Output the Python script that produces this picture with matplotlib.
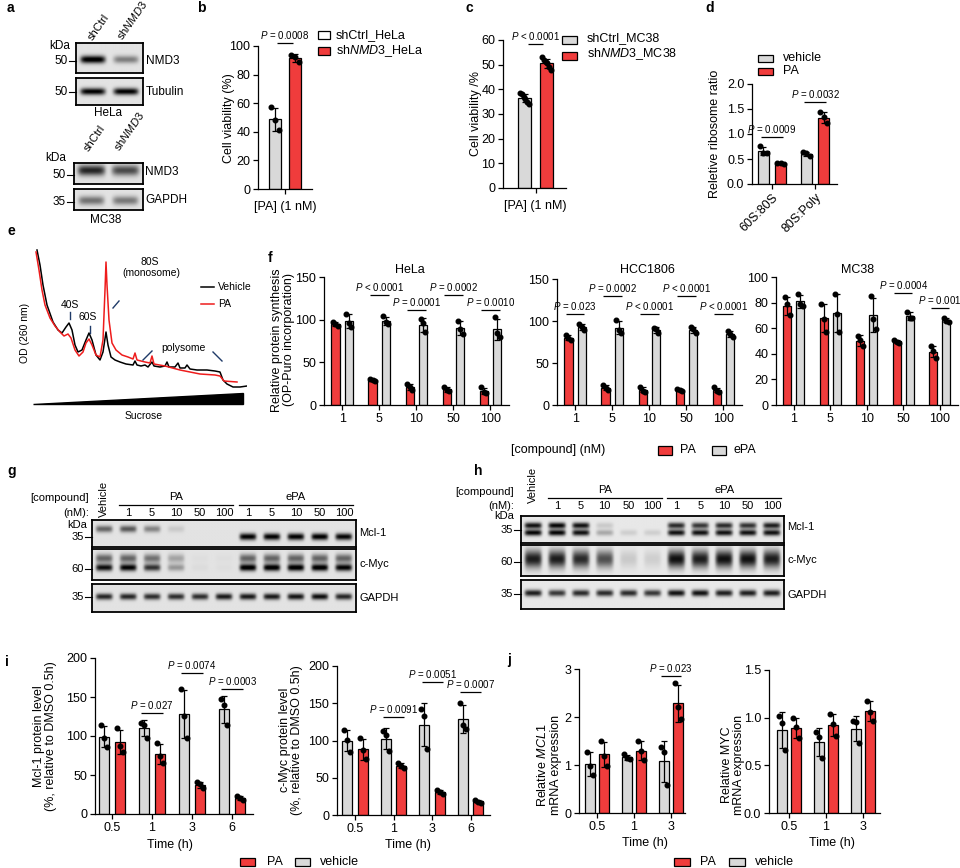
import numpy as np
import matplotlib
matplotlib.use('Agg')
import matplotlib.pyplot as plt
from matplotlib.patches import Rectangle, Polygon
from matplotlib.lines import Line2D

plt.rcParams['font.family'] = ['Liberation Sans', 'DejaVu Sans']
plt.rcParams['mathtext.fontset'] = 'custom'
plt.rcParams['mathtext.rm'] = 'Liberation Sans'
plt.rcParams['mathtext.it'] = 'Liberation Sans:italic'
plt.rcParams['mathtext.bf'] = 'Liberation Sans:bold'

RED = '#f03c3c'
GREY = '#d9d9d9'
NAVY = '#1f3a68'

# ---------------- data ----------------
# panel a band intensities (lanes: shCtrl, shNMD3)
a_hela_nmd3 = [0.95, 0.40]
a_hela_tubulin = [0.90, 0.90]
a_mc38_nmd3 = [0.75, 0.60]
a_mc38_gapdh = [0.45, 0.42]

# panel b
b_labels = ['shCtrl_HeLa', 'shNMD3_HeLa']
b_ctrl = [57, 48, 41]
b_nmd3 = [94, 92, 88.5]

# panel c
c_ctrl = [38.5, 38, 37, 36, 35, 34]
c_nmd3 = [53, 52, 51, 50.5, 49, 48]

# panel d
d_cats = ['60S:80S', '80S:Poly']
d_vehicle = [[0.75, 0.62, 0.61], [0.63, 0.62, 0.55]]
d_pa = [[0.42, 0.41, 0.40], [1.44, 1.33, 1.21]]

# panel e polysome profiles (gradient position, A260 a.u.)
e_veh_pos = [2, 5, 8, 12, 18, 23, 27, 31, 34, 37, 40, 43, 47, 51, 54, 57, 61, 65, 68, 71, 73, 76, 80, 85,
             91, 98, 100, 102, 106, 110, 113, 117, 119, 125, 130, 132, 134, 140, 143, 145, 150, 152, 155,
             162, 172, 180, 185, 188, 192, 198, 205, 212]
e_veh_od = [145, 130, 110, 90, 73, 65, 62, 68, 72, 65, 50, 43, 45, 55, 62, 55, 40, 35, 43, 63, 50, 38, 35, 33,
            31, 30, 34, 30, 29, 30, 28, 33, 29, 28, 29, 33, 28, 28, 32, 27, 27, 30, 26,
            25, 25, 24, 23, 15, 11, 8, 8, 9]
e_pa_pos = [1, 4, 7, 10, 15, 20, 25, 29, 33, 36, 40, 44, 48, 51, 54, 57, 61, 65, 68, 70, 71, 72, 74, 77, 81,
            87, 93, 98, 100, 102, 110, 115, 117, 119, 130, 145, 165, 180, 185, 189, 202]
e_pa_od = [143, 125, 105, 90, 77, 69, 63, 59, 61, 57, 45, 39, 43, 52, 56, 50, 40, 38, 55, 105, 133, 110, 75, 52, 45,
           40, 38, 36, 42, 35, 33, 32, 39, 31, 29, 25, 21, 20, 19, 14, 13]

# panel f (OP-Puro incorporation, %)
f_conc = ['1', '5', '10', '50', '100']
f_hela_pa = [[97, 95, 92], [30, 29, 28], [25, 21, 17], [21, 18, 16], [21, 15, 14]]
f_hela_epa = [[107, 96, 91], [104, 97, 95], [101, 96, 85], [99, 89, 83], [103, 84, 80]]
f_hcc_pa = [[83, 80, 77], [24, 20, 18], [22, 17, 16], [19, 18, 17], [21, 17, 16]]
f_hcc_epa = [[96, 93, 89], [101, 89, 86], [92, 90, 86], [93, 90, 86], [88, 85, 81]]
f_mc38_pa = [[84, 79, 70], [79, 67, 57], [54, 51, 46], [51, 49.5, 48.5], [46, 42, 37]]
f_mc38_epa = [[87, 79, 77], [87, 71, 57], [85, 67, 59], [73, 68, 68], [68, 66, 65]]
f_hela_p = [(1, 129, 'P < 0.0001'), (2, 111, 'P = 0.0001'), (3, 129, 'P = 0.0002'), (4, 111, 'P = 0.0010')]
f_hcc_p = [(0, 108, 'P = 0.023'), (1, 130, 'P = 0.0002'), (2, 108, 'P < 0.0001'),
           (3, 130, 'P < 0.0001'), (4, 108, 'P < 0.0001')]
f_mc38_p = [(3, 87.5, 'P = 0.0004'), (4, 76, 'P = 0.001')]

# panels g, h band intensities (lanes: Vehicle, PA 1-100, ePA 1-100)
blot_lanes = ['1', '5', '10', '50', '100', '1', '5', '10', '50', '100']
g_mcl1 = [0.50, 0.55, 0.38, 0.10, 0.0, 0.0, 0.90, 0.90, 0.90, 0.92, 0.88]
g_myc_upper = [0.50, 0.50, 0.45, 0.25, 0.02, 0.02, 0.50, 0.50, 0.50, 0.50, 0.50]
g_myc_lower = [0.85, 0.90, 0.70, 0.30, 0.03, 0.02, 0.95, 0.95, 0.95, 0.95, 0.90]
g_gapdh = [0.75, 0.75, 0.72, 0.72, 0.72, 0.80, 0.80, 0.80, 0.82, 0.85, 0.75]
h_mcl1_upper = [0.85, 0.90, 0.85, 0.12, 0.0, 0.0, 0.75, 0.70, 0.75, 0.72, 0.80]
h_mcl1_lower = [0.90, 0.90, 0.85, 0.25, 0.10, 0.10, 0.85, 0.85, 0.85, 0.85, 0.85]
h_myc = [0.80, 0.80, 0.75, 0.60, 0.12, 0.10, 0.85, 0.80, 0.85, 0.85, 0.80]
h_gapdh = [0.80, 0.70, 0.75, 0.75, 0.75, 0.70, 0.85, 0.85, 0.80, 0.80, 0.80]

# panel i
i_time = ['0.5', '1', '3', '6']
i_mcl1_vehicle = [[114, 98, 86], [117, 114, 98], [160, 126, 98], [148, 140, 114]]
i_mcl1_pa = [[110, 87, 80], [91, 75, 66], [41, 38, 33], [23, 20, 18]]
i_myc_vehicle = [[114, 101, 85], [113, 108, 86], [142, 133, 89], [151, 121, 116]]
i_myc_pa = [[103, 87, 75], [70, 66, 63], [34, 31, 28], [20.5, 18, 16]]
i_mcl1_p = [(1, 130, 'P = 0.027'), (2, 181, 'P = 0.0074'), (3, 160, 'P = 0.0003')]
i_myc_p = [(1, 132, 'P = 0.0091'), (2, 179, 'P = 0.0051'), (3, 165, 'P = 0.0007')]

# panel j
j_time = ['0.5', '1', '3']
j_mcl1_vehicle = [[1.28, 0.98, 0.80], [1.22, 1.15, 1.12], [1.37, 1.28, 0.58]]
j_mcl1_pa = [[1.50, 1.19, 0.97], [1.50, 1.29, 1.10], [2.70, 2.20, 1.95]]
j_myc_vehicle = [[1.02, 0.94, 0.66], [0.85, 0.80, 0.58], [0.97, 0.95, 0.73]]
j_myc_pa = [[1.00, 0.90, 0.79], [1.04, 0.93, 0.81], [1.18, 1.06, 0.97]]
j_mcl1_p = [(2, 2.86, 'P = 0.023')]

# ---------------- helpers ----------------
W, H = 960, 868
fig = plt.figure(figsize=(9.6, 8.68), dpi=100)
TICK_FS = 9
LAB_FS = 9
P_FS = 7


def axpx(x0, y0, x1, y1):
    return fig.add_axes([x0 / W, 1 - y1 / H, (x1 - x0) / W, (y1 - y0) / H])


def ftxt(x, y, s, **kw):
    kw.setdefault('ha', 'center')
    kw.setdefault('va', 'center')
    fig.text(x / W, 1 - y / H, s, **kw)


def frect(x0, y0, x1, y1, fc, lw=0.9):
    fig.add_artist(Rectangle((x0 / W, 1 - y1 / H), (x1 - x0) / W, (y1 - y0) / H,
                             transform=fig.transFigure, fc=fc, ec='black', lw=lw))


def fline(xs, ys, **kw):
    fig.add_artist(Line2D([x / W for x in xs], [1 - y / H for y in ys],
                          transform=fig.transFigure, **kw))


def style(ax, fs=TICK_FS):
    for s in ['top', 'right']:
        ax.spines[s].set_visible(False)
    for s in ['left', 'bottom']:
        ax.spines[s].set_linewidth(0.9)
    ax.tick_params(width=0.9, length=3.5, labelsize=fs, pad=2)
    ax.patch.set_alpha(0)


def bars(ax, xs, groups, color, width, ms=3.3, spread=0.3, capsize=2.0):
    for x, pts in zip(xs, groups):
        pts = np.asarray(pts, float)
        m = pts.mean()
        sd = pts.std(ddof=1)
        ax.bar(x, m, width, color=color, edgecolor='black', linewidth=0.9, zorder=2)
        ax.errorbar(x, m, yerr=sd, fmt='none', ecolor='black', elinewidth=0.9,
                    capsize=capsize, capthick=0.9, zorder=3)
        n = len(pts)
        offs = np.linspace(-spread, spread, n) * width
        ax.plot(x + offs, pts, 'o', color='black', ms=ms, zorder=4, clip_on=False)


def pval(ax, x1, x2, y, s, fs=P_FS):
    ax.plot([x1, x2], [y, y], color='black', lw=0.9, clip_on=False, solid_capstyle='butt')
    txt = s.replace('P', r'$\it{P}$', 1)
    ax.annotate(txt, xy=((x1 + x2) / 2, y), xytext=(0, 1.5), textcoords='offset points',
                ha='center', va='bottom', fontsize=fs, annotation_clip=False)


def blot(box, n, bands, bg=0.11):
    x0, y0, x1, y1 = box
    ax = axpx(x0, y0, x1, y1)
    ny, nx = 90, 40 * n
    yy = np.linspace(0, 1, ny)[:, None]
    xx = np.linspace(0, 1, nx)[None, :]
    img = np.full((ny, nx), bg)
    for yc, sy, ints, wfrac in bands:
        ycs = np.broadcast_to(np.asarray(yc, float), (n,))
        for i, a in enumerate(ints):
            xc = (i + 0.5) / n
            hx = np.exp(-((xx - xc) / (wfrac / n / 2)) ** 6)
            vy = np.exp(-0.5 * ((yy - ycs[i]) / sy) ** 2)
            img = img + a * hx * vy
    img = np.clip(img, 0, 1)
    ax.imshow(img, cmap='gray_r', vmin=0, vmax=1, aspect='auto', extent=(0, 1, 1, 0),
              interpolation='bilinear')
    ax.set_xlim(0, 1)
    ax.set_ylim(1, 0)
    ax.set_xticks([])
    ax.set_yticks([])
    for s in ax.spines.values():
        s.set_linewidth(1.3)
    return ax


def mw(x, y, label, fs=8):
    # molecular weight marker: number + tick
    ftxt(x - 8, y, label, ha='right', fontsize=fs)
    fline([x - 7, x], [y, y], color='black', lw=0.8)


# ---------------- panel labels ----------------
for lab, x, y in [('a', 7, 8), ('b', 197, 8), ('c', 466, 8), ('d', 705, 8), ('e', 7, 231),
                  ('f', 268, 258), ('g', 7, 471), ('h', 474, 471), ('i', 5, 662), ('j', 507, 660)]:
    ftxt(x, y, lab, fontsize=10, fontweight='bold', ha='left')

# ---------------- panel a ----------------
blot((76, 43, 143, 73), 2, [(0.55, 0.09, a_hela_nmd3, 0.75)])
blot((76, 78, 143, 105), 2, [(0.5, 0.09, a_hela_tubulin, 0.75)])
ftxt(94, 42, 'shCtrl', rotation=55, ha='left', va='bottom', rotation_mode='anchor', fontsize=8)
ftxt(124, 42, r'sh$\it{NMD3}$', rotation=55, ha='left', va='bottom', rotation_mode='anchor', fontsize=8)
ftxt(60, 46, 'kDa', fontsize=8.5)
mw(76, 61, '50', fs=8.5)
mw(76, 92, '50', fs=8.5)
ftxt(146, 61, 'NMD3', ha='left', fontsize=8.5)
ftxt(146, 92, 'Tubulin', ha='left', fontsize=8.5)
ftxt(108, 113, 'HeLa', fontsize=8.5)

blot((74, 163, 143, 184), 2, [(0.35, 0.18, a_mc38_nmd3, 0.8)])
blot((74, 189, 143, 210), 2, [(0.55, 0.15, a_mc38_gapdh, 0.75)])
ftxt(90, 153, 'shCtrl', rotation=55, ha='left', va='bottom', rotation_mode='anchor', fontsize=8)
ftxt(121, 153, r'sh$\it{NMD3}$', rotation=55, ha='left', va='bottom', rotation_mode='anchor', fontsize=8)
ftxt(56, 158, 'kDa', fontsize=8.5)
mw(74, 175, '50', fs=8.5)
mw(74, 202, '35', fs=8.5)
ftxt(145, 172, 'NMD3', ha='left', fontsize=8.5)
ftxt(145, 200, 'GAPDH', ha='left', fontsize=8.5)
ftxt(106, 220, 'MC38', fontsize=8.5)

# ---------------- panel b ----------------
ax = axpx(258, 46, 312, 189)
style(ax)
bars(ax, [-0.5], [b_ctrl], GREY, 0.6)
bars(ax, [0.5], [b_nmd3], RED, 0.6)
ax.set_ylim(0, 100)
ax.set_yticks([0, 20, 40, 60, 80, 100])
ax.set_xlim(-1.35, 1.35)
ax.set_xticks([0])
ax.set_xticklabels(['[PA] (1 nM)'])
ax.tick_params(axis='x', pad=5)
pval(ax, -0.4, 0.4, 102, 'P = 0.0008')
ftxt(229, 118, 'Cell viability (%)', rotation=90, fontsize=LAB_FS)
frect(318, 31, 330, 39, 'white')
frect(318, 47, 330, 55, RED)
ftxt(336, 35, b_labels[0], ha='left', fontsize=LAB_FS)
ftxt(336, 51, r'sh$\it{NMD3}$_HeLa', ha='left', fontsize=LAB_FS)

# ---------------- panel c ----------------
ax = axpx(503, 40, 566, 188)
style(ax)
bars(ax, [-0.5], [c_ctrl], GREY, 0.6, spread=0.32)
bars(ax, [0.5], [c_nmd3], RED, 0.6, spread=0.32)
ax.set_ylim(0, 60)
ax.set_yticks([0, 10, 20, 30, 40, 50, 60])
ax.set_xlim(-1.48, 1.38)
ax.set_xticks([0])
ax.set_xticklabels(['[PA] (1 nM)'])
ax.tick_params(axis='x', pad=5)
pval(ax, -0.35, 0.35, 58.4, 'P < 0.0001')
ftxt(476, 114, 'Cell viability /%', rotation=90, fontsize=LAB_FS)
frect(562, 36, 577, 44, GREY)
frect(562, 52, 577, 60, RED)
ftxt(587, 38, 'shCtrl_MC38', ha='left', fontsize=LAB_FS)
ftxt(587, 54, r'sh$\it{NMD3}$_MC38', ha='left', fontsize=LAB_FS)

# ---------------- panel d ----------------
ax = axpx(752, 84, 837, 184)
style(ax)
xd = np.arange(len(d_cats))
bars(ax, xd - 0.2, d_vehicle, GREY, 0.25)
bars(ax, xd + 0.2, d_pa, RED, 0.25)
ax.set_ylim(0, 2.0)
ax.set_yticks([0, 0.5, 1.0, 1.5, 2.0])
ax.set_yticklabels(['0.0', '0.5', '1.0', '1.5', '2.0'])
ax.set_xlim(-0.465, 1.51)
ax.set_xticks(xd)
ax.set_xticklabels(d_cats, rotation=45, ha='right', rotation_mode='anchor')
pval(ax, -0.25, 0.25, 0.94, 'P = 0.0009')
pval(ax, 0.75, 1.25, 1.64, 'P = 0.0032')
ftxt(715, 134, 'Reletive ribosome ratio', rotation=90, fontsize=LAB_FS)
frect(758, 55, 773, 62, GREY)
frect(758, 68, 773, 75, RED)
ftxt(783, 58, 'vehicle', ha='left', fontsize=LAB_FS)
ftxt(783, 71, 'PA', ha='left', fontsize=LAB_FS)

# ---------------- panel e ----------------
ax = axpx(35, 245, 247, 395)
ax.plot(e_veh_pos, e_veh_od, color='black', lw=1.1)
ax.plot(e_pa_pos, e_pa_od, color='#ee1c1c', lw=1.1)
ax.set_xlim(0, 212)
ax.set_ylim(0, 150)
ax.axis('off')
fig.add_artist(Polygon([(33 / W, 1 - 404 / H), (243 / W, 1 - 404 / H), (243 / W, 1 - 393 / H)],
                       closed=True, transform=fig.transFigure, fc='black', ec='black'))
ftxt(144, 416, 'Sucrose', fontsize=7.5)
ftxt(25, 333, 'OD (260 nm)', rotation=90, fontsize=7.5)
ftxt(70, 305, '40S', fontsize=7.5)
fline([70, 70], [312, 319], color=NAVY, lw=1)
ftxt(88, 317, '60S', fontsize=7.5)
fline([90, 90], [326, 333], color=NAVY, lw=1)
ftxt(150, 262, '80S', fontsize=7.5)
ftxt(151, 273, '(monosome)', fontsize=7.5)
fline([113, 119], [308, 301], color=NAVY, lw=1)
ftxt(183, 348, 'polysome', fontsize=7.5)
fline([143, 152], [360, 351], color=NAVY, lw=1)
fline([213, 222], [352, 361], color=NAVY, lw=1)
fline([201, 214], [287, 287], color='black', lw=1.1)
ftxt(218, 287, 'Vehicle', ha='left', fontsize=7.5)
fline([201, 214], [304, 304], color='#ee1c1c', lw=1.1)
ftxt(218, 304, 'PA', ha='left', fontsize=7.5)

# ---------------- panel f ----------------
xf = np.arange(len(f_conc))
f_specs = [((324, 277, 509, 405), f_hela_pa, f_hela_epa, 150, [0, 50, 100, 150], f_hela_p, 'HeLa', 410),
           ((557, 279, 742, 405), f_hcc_pa, f_hcc_epa, 150, [0, 50, 100, 150], f_hcc_p, 'HCC1806', 647),
           ((776, 277, 958, 405), f_mc38_pa, f_mc38_epa, 100, [0, 20, 40, 60, 80, 100], f_mc38_p, 'MC38', 858)]
for box, pa, epa, top, ticks, plist, title, tx in f_specs:
    ax = axpx(*box)
    style(ax)
    bars(ax, xf - 0.18, pa, RED, 0.22)
    bars(ax, xf + 0.18, epa, GREY, 0.22)
    ax.set_ylim(0, top)
    ax.set_yticks(ticks)
    ax.set_xlim(-0.49, 4.5)
    ax.set_xticks(xf)
    ax.set_xticklabels(f_conc)
    for g, y, s in plist:
        pval(ax, g - 0.25, g + 0.25, y, s)
    ftxt(tx, 270, title, fontsize=LAB_FS)
ftxt(283, 340, 'Relative protein synthesis\n(OP-Puro incorporation)', rotation=90,
     fontsize=LAB_FS, linespacing=1.0)
ftxt(558, 450, '[compound] (nM)', fontsize=LAB_FS)
frect(658, 446, 672, 455, RED)
ftxt(680, 450, 'PA', ha='left', fontsize=LAB_FS)
frect(712, 446, 726, 455, GREY)
ftxt(734, 450, 'ePA', ha='left', fontsize=LAB_FS)

# ---------------- panel g ----------------
gx0, gx1 = 92, 356
blot((gx0, 520, gx1, 547), 11, [([0.33] * 6 + [0.62] * 5, 0.09, g_mcl1, 0.7)])
blot((gx0, 549, gx1, 580), 11, [(0.3, 0.1, g_myc_upper, 0.7), (0.6, 0.08, g_myc_lower, 0.7)])
blot((gx0, 584, gx1, 612), 11, [(0.45, 0.08, g_gapdh, 0.7)])
gl = gx0 + (np.arange(11) + 0.5) * (gx1 - gx0) / 11
ftxt(gl[0], 517, 'Vehicle', rotation=90, ha='center', va='bottom', fontsize=8)
for k, s in enumerate(blot_lanes):
    ftxt(gl[k + 1], 513, s, fontsize=8)
ftxt((gl[1] + gl[5]) / 2, 497, 'PA', fontsize=8)
ftxt((gl[6] + gl[10]) / 2, 497, 'ePA', fontsize=8)
fline([gl[1] - 9, gl[5] + 9], [505, 505], color='black', lw=0.9)
fline([gl[6] - 9, gl[10] + 9], [505, 505], color='black', lw=0.9)
ftxt(89, 498, '[compound]', ha='right', fontsize=8)
ftxt(89, 513, '(nM):', ha='right', fontsize=8)
ftxt(87, 525, 'kDa', ha='right', fontsize=8)
mw(gx0, 537, '35')
mw(gx0, 569, '60')
mw(gx0, 597, '35')
ftxt(359, 533, 'Mcl-1', ha='left', fontsize=8)
ftxt(359, 564, 'c-Myc', ha='left', fontsize=8)
ftxt(359, 598, 'GAPDH', ha='left', fontsize=8)

# ---------------- panel h ----------------
hx0, hx1 = 521, 784
blot((hx0, 516, hx1, 543), 11, [(0.35, 0.08, h_mcl1_upper, 0.72), (0.62, 0.08, h_mcl1_lower, 0.72)], bg=0.09)
blot((hx0, 545, hx1, 576), 11, [(0.45, 0.2, h_myc, 0.72)], bg=0.09)
blot((hx0, 580, hx1, 609), 11, [(0.45, 0.08, h_gapdh, 0.72)], bg=0.09)
hl = hx0 + (np.arange(11) + 0.5) * (hx1 - hx0) / 11
ftxt(hl[0], 503, 'Vehicle', rotation=90, ha='center', va='bottom', fontsize=8)
for k, s in enumerate(blot_lanes):
    ftxt(hl[k + 1], 506, s, fontsize=8)
ftxt((hl[1] + hl[5]) / 2, 490, 'PA', fontsize=8)
ftxt((hl[6] + hl[10]) / 2, 490, 'ePA', fontsize=8)
fline([hl[1] - 9, hl[5] + 9], [498, 498], color='black', lw=0.9)
fline([hl[6] - 9, hl[10] + 9], [498, 498], color='black', lw=0.9)
ftxt(514, 492, '[compound]', ha='right', fontsize=8)
ftxt(514, 506, '(nM):', ha='right', fontsize=8)
ftxt(514, 516, 'kDa', ha='right', fontsize=8)
mw(hx0, 530, '35')
mw(hx0, 562, '60')
mw(hx0, 594, '35')
ftxt(787, 527, 'Mcl-1', ha='left', fontsize=8)
ftxt(787, 560, 'c-Myc', ha='left', fontsize=8)
ftxt(787, 595, 'GAPDH', ha='left', fontsize=8)

# ---------------- panel i ----------------
xi = np.arange(len(i_time))
i_specs = [((95, 658, 253, 814), i_mcl1_vehicle, i_mcl1_pa, i_mcl1_p, (-0.425, 3.525),
            'Mcl-1 protein level\n(%, relative to DMSO 0.5h)', 45, 736, 170),
           ((337, 666, 490, 815), i_myc_vehicle, i_myc_pa, i_myc_p, (-0.47, 3.5),
            'c-Myc protein level\n(%, relative to DMSO 0.5h)', 291, 740, 408)]
for box, veh, pa, plist, xl, ylab, yx, yy, tx in i_specs:
    ax = axpx(*box)
    style(ax)
    bars(ax, xi - 0.2, veh, GREY, 0.26)
    bars(ax, xi + 0.2, pa, RED, 0.26)
    ax.set_ylim(0, 200)
    ax.set_yticks([0, 50, 100, 150, 200])
    ax.set_xlim(*xl)
    ax.set_xticks(xi)
    ax.set_xticklabels(i_time)
    for g, y, s in plist:
        pval(ax, g - 0.27, g + 0.27, y, s)
    ftxt(yx, yy, ylab, rotation=90, fontsize=LAB_FS, linespacing=1.05)
    ftxt(tx, 845, 'Time (h)', fontsize=LAB_FS)
frect(240, 858, 255, 866, RED)
ftxt(267, 862, 'PA', ha='left', fontsize=LAB_FS)
frect(295, 858, 310, 866, GREY)
ftxt(320, 862, 'vehicle', ha='left', fontsize=LAB_FS)

# ---------------- panel j ----------------
xj = np.arange(len(j_time))
ax = axpx(579, 669, 685, 813)
style(ax)
bars(ax, xj - 0.2, j_mcl1_vehicle, GREY, 0.27)
bars(ax, xj + 0.2, j_mcl1_pa, RED, 0.27)
ax.set_ylim(0, 3)
ax.set_yticks([0, 1, 2, 3])
ax.set_xlim(-0.486, 2.38)
ax.set_xticks(xj)
ax.set_xticklabels(j_time)
for g, y, s in j_mcl1_p:
    pval(ax, g - 0.27, g + 0.27, y, s)
ftxt(549, 765, 'Relative $\\it{MCL1}$\nmRNA expression', rotation=90, fontsize=LAB_FS, linespacing=1.05)
ftxt(645, 843, 'Time (h)', fontsize=LAB_FS)

ax = axpx(769, 670, 880, 813)
style(ax)
bars(ax, xj - 0.2, j_myc_vehicle, GREY, 0.27)
bars(ax, xj + 0.2, j_myc_pa, RED, 0.27)
ax.set_ylim(0, 1.5)
ax.set_yticks([0, 0.5, 1.0, 1.5])
ax.set_yticklabels(['0.0', '0.5', '1.0', '1.5'])
ax.set_xlim(-0.54, 2.46)
ax.set_xticks(xj)
ax.set_xticklabels(j_time)
ftxt(733, 765, 'Relative MYC\nmRNA expression', rotation=90, fontsize=LAB_FS, linespacing=1.05)
ftxt(832, 843, 'Time (h)', fontsize=LAB_FS)
frect(674, 858, 690, 866, RED)
ftxt(700, 862, 'PA', ha='left', fontsize=LAB_FS)
frect(729, 858, 745, 866, GREY)
ftxt(755, 862, 'vehicle', ha='left', fontsize=LAB_FS)

fig.savefig('out.png', dpi=100)
